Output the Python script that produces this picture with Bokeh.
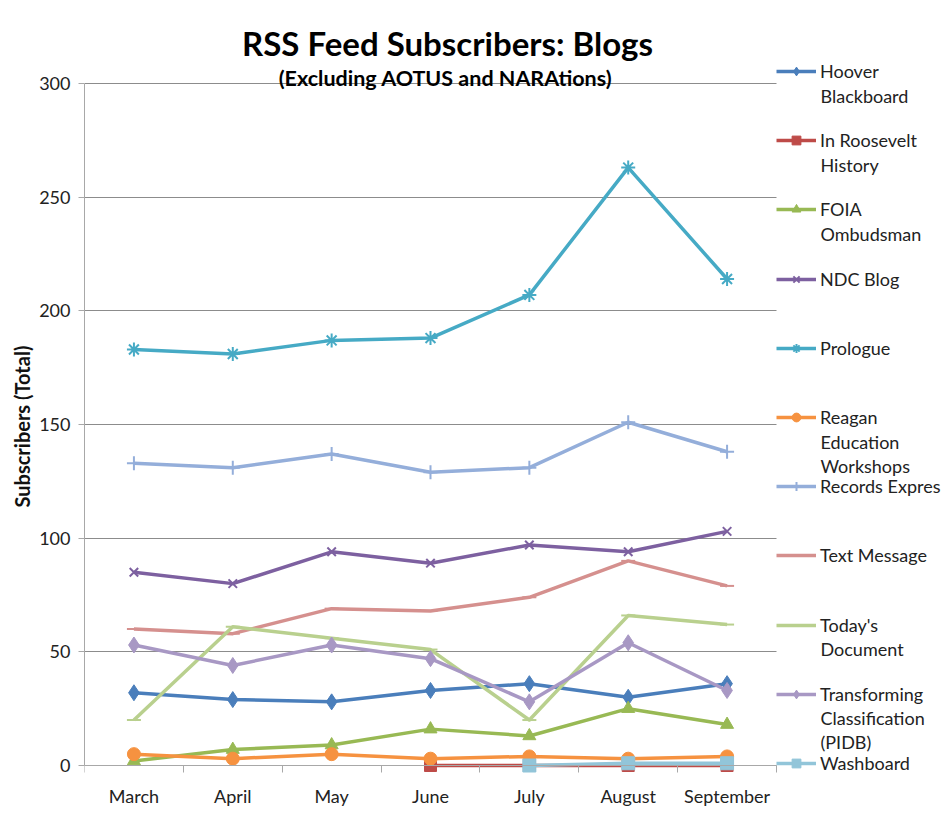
from bokeh.plotting import figure
from bokeh.models import Legend, LegendItem, Label, Title, FixedTicker, Range1d
from bokeh.embed import file_html
from bokeh.resources import INLINE

nan = float("nan")

months = ["March", "April", "May", "June", "July", "August", "September"]
hoover = [32, 29, 28, 33, 36, 30, 36]
roosevelt = [nan, nan, nan, 0, 0, 0, 0]
foia = [2, 7, 9, 16, 13, 25, 18]
ndc = [85, 80, 94, 89, 97, 94, 103]
prologue = [183, 181, 187, 188, 207, 263, 214]
reagan = [5, 3, 5, 3, 4, 3, 4]
records = [133, 131, 137, 129, 131, 151, 138]
text_message = [60, 58, 69, 68, 74, 90, 79]
todays_doc = [20, 61, 56, 51, 20, 66, 62]
transforming = [53, 44, 53, 47, 28, 54, 33]
washboard = [nan, nan, nan, nan, 0, 1, 1]
y_ticks = [0, 50, 100, 150, 200, 250, 300]
Y_MAX = 300

FONT = "Lato"
x_idx = list(range(len(months)))
n = len(months)

# layout (picture px): plot area 84..776 x 83..765; frame extended to the canvas edges
W, H = 943, 831
PL, PR, PT, PB = 84, 776, 83, 765
ppx = (PR - PL) / n            # px per category
ppy = (PB - PT) / Y_MAX        # px per unit

p = figure(width=W, height=H, output_backend="svg", toolbar_location=None,
           x_range=Range1d(-0.5, -0.5 + (W - PL) / ppx),
           y_range=Range1d(-(H - PB) / ppy, PB / ppy),
           min_border_left=PL, min_border_right=0,
           min_border_top=0, min_border_bottom=0)
p.outline_line_color = None
p.background_fill_color = "white"
p.border_fill_color = "white"


def px2x(px):
    return -0.5 + (px - PL) / ppx


def py2y(py):
    return (PB - py) / ppy


# grid
p.xgrid.visible = False
p.ygrid.ticker = FixedTicker(ticks=y_ticks)
p.ygrid.grid_line_color = "#8c8c8c"
p.ygrid.grid_line_width = 1
p.ygrid.cross_bounds = (-0.5, n - 0.5)

# axes
p.yaxis.ticker = FixedTicker(ticks=y_ticks)
p.yaxis.bounds = (0, Y_MAX)
p.yaxis.major_tick_out = 6
p.yaxis.major_tick_in = 0
p.yaxis.minor_tick_line_color = None
p.yaxis.axis_line_color = "#a8a8a8"
p.yaxis.major_tick_line_color = "#a8a8a8"
p.yaxis.major_label_text_font = FONT
p.yaxis.major_label_text_font_size = "18px"
p.yaxis.major_label_text_color = "#222222"
p.yaxis.major_label_standoff = 8

p.xaxis.fixed_location = 0
p.xaxis.ticker = FixedTicker(ticks=x_idx, minor_ticks=[i - 0.5 for i in range(n + 1)])
p.xaxis.bounds = (-0.5, n - 0.5)
p.xaxis.major_label_overrides = {i: m for i, m in enumerate(months)}
p.xaxis.major_tick_out = 0
p.xaxis.major_tick_in = 0
p.xaxis.minor_tick_out = 7
p.xaxis.minor_tick_in = 0
p.xaxis.minor_tick_line_color = "#a8a8a8"
p.xaxis.axis_line_color = "#a8a8a8"
p.xaxis.major_label_text_font = FONT
p.xaxis.major_label_text_font_size = "18px"
p.xaxis.major_label_text_color = "#222222"
p.xaxis.major_label_standoff = 12

# y axis title (as a rotated title in the left panel)
ylab = "Subscribers (Total)"
p.add_layout(Title(text=ylab, align="left", offset=H - 507, standoff=6,
                   text_font=FONT, text_font_style="bold", text_font_size="20px",
                   text_color="#111111"), "left")

series = [
    (["Hoover", "Blackboard"], hoover, "#4A7EBB", "diamond", 16),
    (["In Roosevelt", "History"], roosevelt, "#BE4B48", "square", 12),
    (["FOIA", "Ombudsman"], foia, "#98B954", "triangle", 13),
    (["NDC Blog"], ndc, "#7D60A0", "x", 12),
    (["Prologue"], prologue, "#46AAC5", "asterisk", 14),
    (["Reagan", "Education", "Workshops"], reagan, "#F69240", "circle", 13),
    (["Records Expres"], records, "#94AEDA", "cross", 14),
    (["Text Message"], text_message, "#D5908E", "dash", 14),
    (["Today's", "Document"], todays_doc, "#B9D08E", "dash", 14),
    (["Transforming", "Classification", "(PIDB)"], transforming, "#A898C4", "diamond", 16),
    (["Washboard"], washboard, "#92C5D9", "square", 13),
]

LEG_Y0, LEG_DY, LINE_DY, LEG_H = 71, 69.2, 24, 22
TXT = "#222222"

for k, (label_lines, vals, color, marker, size) in enumerate(series):
    lr = p.line(x_idx, vals, line_color=color, line_width=3.5, line_join="round")
    mr = p.scatter(x_idx, vals, marker=marker, size=size, fill_color=color,
                   line_color=color, line_width=2 if marker in ("x", "asterisk", "cross", "dash") else 1)
    yc = LEG_Y0 + k * LEG_DY
    rends = [lr] if marker == "dash" else [lr, mr]
    # legend location is measured from the frame's bottom-left corner (frame bottom = canvas bottom)
    lg = Legend(items=[LegendItem(label=label_lines[0], renderers=rends)],
                location=(PR - PL, H - (yc + LEG_H / 2)),
                glyph_width=40, glyph_height=LEG_H, label_height=LEG_H, label_width=10,
                padding=0, margin=0, spacing=0, label_standoff=4,
                background_fill_alpha=0, border_line_alpha=0,
                label_text_font=FONT, label_text_font_size="18px",
                label_text_color=TXT)
    p.add_layout(lg)
    for j, extra in enumerate(label_lines[1:], start=1):
        p.add_layout(Label(x=px2x(PR + 44), y=py2y(yc + j * LINE_DY), text=extra,
                           text_font=FONT, text_font_size="18px", text_color=TXT,
                           text_align="left", text_baseline="middle"))

p.add_layout(Label(x=px2x(447), y=py2y(42), text="RSS Feed Subscribers: Blogs",
                   text_font=FONT, text_font_style="bold", text_font_size="33px",
                   text_color="#000000", text_align="center", text_baseline="middle"))
p.add_layout(Label(x=px2x(445), y=py2y(77), text="(Excluding AOTUS and NARAtions)",
                   text_font=FONT, text_font_style="bold", text_font_size="21.5px",
                   text_color="#000000", text_align="center", text_baseline="middle"))

open("out.html", "w").write(file_html(p, INLINE))
